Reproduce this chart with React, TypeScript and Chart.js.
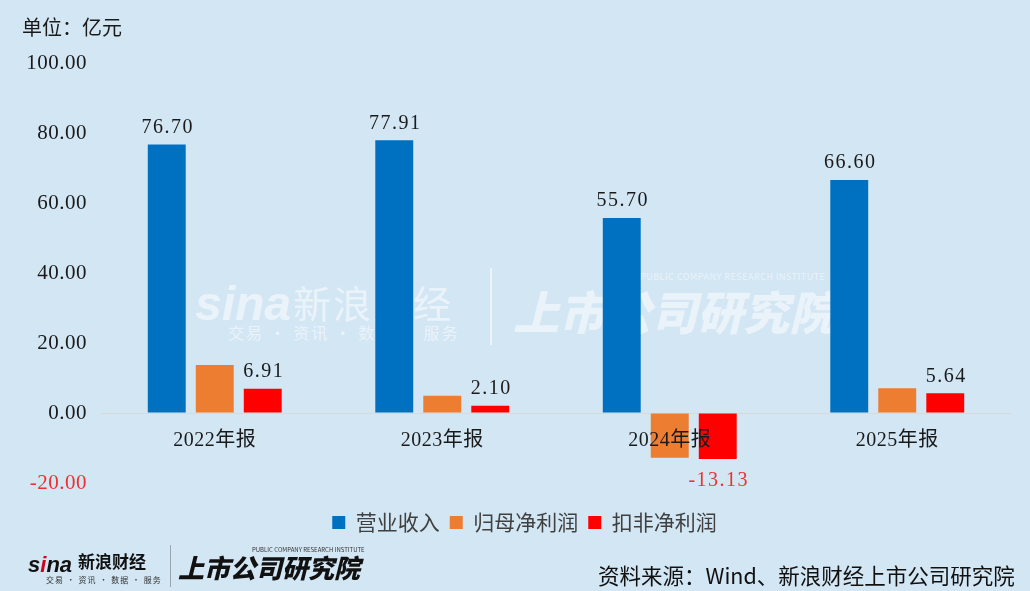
import React, { useEffect, useRef } from "react";
import { Chart, registerables } from "chart.js";

Chart.register(...registerables);

// 数据（单位：亿元）
const categories = ["2022年报", "2023年报", "2024年报", "2025年报"];
const revenue = [76.7, 77.91, 55.7, 66.6];
const netProfit = [13.7, 4.9, -12.8, 7.1];
const deductedProfit = [6.91, 2.1, -13.13, 5.64];
const seriesNames = ["营业收入", "归母净利润", "扣非净利润"];
const seriesColors = ["#0070C0", "#ED7D31", "#FF0000"];
const labeledSeries = [0, 2];
const yMin = -20;
const yMax = 100;
const yStep = 20;

const BG = "#d3e6f4";
const serifFont = "'Liberation Serif', 'Noto Sans CJK SC', serif";
const sansFont = "'Noto Sans CJK SC', 'Noto Sans', sans-serif";

const valueLabels = {
  id: "valueLabels",
  afterDatasetsDraw(chart: Chart) {
    const { ctx } = chart;
    ctx.save();
    ctx.font = `20px ${serifFont}`;
    (ctx as any).letterSpacing = "1.5px";
    ctx.textAlign = "center";
    labeledSeries.forEach((di) => {
      const meta = chart.getDatasetMeta(di);
      const values = chart.data.datasets[di].data as number[];
      meta.data.forEach((bar: any, i: number) => {
        const v = values[i];
        if (v >= 0) {
          ctx.fillStyle = "#1a1a1a";
          ctx.textBaseline = "bottom";
          ctx.fillText(v.toFixed(2), bar.x + 1, bar.y - 7);
        } else {
          ctx.fillStyle = "#f03030";
          ctx.textBaseline = "top";
          ctx.fillText(v.toFixed(2), bar.x + 1, bar.y + 12);
        }
      });
    });
    ctx.restore();
  },
};

// category names sit just under the zero line; y tick labels right-aligned left of the plot
const axisLabels = {
  id: "axisLabels",
  afterDatasetsDraw(chart: Chart) {
    const { ctx, chartArea } = chart;
    const xs = chart.scales.x;
    const ys = chart.scales.y;
    const y0 = ys.getPixelForValue(0);
    ctx.save();
    ctx.font = `20px ${serifFont}`;
    (ctx as any).letterSpacing = "0.5px";
    ctx.fillStyle = "#1a1a1a";
    ctx.textAlign = "center";
    ctx.textBaseline = "middle";
    (chart.data.labels as string[]).forEach((lab, i) => {
      ctx.fillText(lab, xs.getPixelForValue(i), y0 + 28);
    });
    ctx.font = `21px ${serifFont}`;
    ctx.textAlign = "right";
    ys.ticks.forEach((t: any) => {
      ctx.fillStyle = t.value < 0 ? "#f03030" : "#1a1a1a";
      ctx.fillText(Number(t.value).toFixed(2), chartArea.left - 14, ys.getPixelForValue(t.value));
    });
    ctx.restore();
  },
};

const BarChart: React.FC = () => {
  const canvasRef = useRef<HTMLCanvasElement>(null);
  const chartRef = useRef<Chart | null>(null);

  useEffect(() => {
    if (!canvasRef.current) return;
    if (chartRef.current) chartRef.current.destroy();

    const seriesData = [revenue, netProfit, deductedProfit];

    chartRef.current = new Chart(canvasRef.current, {
      type: "bar",
      data: {
        labels: categories,
        datasets: seriesData.map((d, i) => ({
          label: seriesNames[i],
          data: d,
          backgroundColor: seriesColors[i],
          borderWidth: 0,
          categoryPercentage: 0.633,
          barPercentage: 0.79,
        })),
      },
      options: {
        responsive: true,
        maintainAspectRatio: false,
        animation: false,
        layout: { padding: { top: 63, left: 38, right: 19, bottom: 48 } },
        plugins: {
          legend: {
            position: "bottom",
            labels: {
              boxWidth: 13,
              boxHeight: 13,
              padding: 10,
              color: "#404040",
              font: { family: sansFont, size: 21 },
            },
          },
          title: { display: false },
          tooltip: { enabled: false },
        },
        scales: {
          x: {
            ticks: { display: false },
            grid: { display: false },
            border: { display: false },
            afterFit: (s: any) => {
              s.height = 19;
            },
          },
          y: {
            min: yMin,
            max: yMax,
            ticks: { stepSize: yStep, display: false },
            grid: {
              drawTicks: false,
              lineWidth: 1,
              color: (c: any) => (c.tick && c.tick.value === 0 ? "#d9d9d9" : "rgba(0,0,0,0)"),
            },
            border: { display: false },
            afterFit: (s: any) => {
              s.width = 63;
            },
          },
        },
      },
      plugins: [valueLabels, axisLabels],
    });

    return () => {
      if (chartRef.current) {
        chartRef.current.destroy();
        chartRef.current = null;
      }
    };
  }, []);

  return <canvas ref={canvasRef} />;
};

const wm = "rgba(255,255,255,0.55)";

const App: React.FC = () => {
  return (
    <div
      style={{
        position: "absolute",
        left: 0,
        top: 0,
        width: 1030,
        height: 591,
        background: BG,
        overflow: "hidden",
        fontFamily: sansFont,
      }}
    >
      {/* watermark, behind the bars */}
      <div style={{ position: "absolute", left: 0, top: 0, width: 1030, height: 591, pointerEvents: "none" }}>
        <div style={{ position: "absolute", left: 195, top: 280, fontSize: 48, fontWeight: 900, fontStyle: "italic", color: wm, fontFamily: "'Liberation Sans', sans-serif", lineHeight: "48px" }}>
          sina
        </div>
        <div style={{ position: "absolute", left: 293, top: 282, fontSize: 38, color: wm, lineHeight: "40px", letterSpacing: 2 }}>
          新浪财经
        </div>
        <div style={{ position: "absolute", left: 228, top: 322, fontSize: 16, color: wm, lineHeight: "20px", letterSpacing: 2 }}>
          交易 · 资讯 · 数据 · 服务
        </div>
        <div style={{ position: "absolute", left: 490, top: 268, width: 2, height: 77, background: wm }} />
        <div style={{ position: "absolute", left: 640, top: 272, fontSize: 9, color: wm, lineHeight: "10px", letterSpacing: 0.5 }}>
          PUBLIC COMPANY RESEARCH INSTITUTE
        </div>
        <div style={{ position: "absolute", left: 513, top: 280, fontSize: 46, fontWeight: 900, fontStyle: "italic", color: wm, lineHeight: "60px" }}>
          上市公司研究院
        </div>
      </div>

      <div style={{ position: "absolute", left: 0, top: 0, width: 1030, height: 591 }}>
        <BarChart />
      </div>

      <div style={{ position: "absolute", left: 22, top: 14, fontSize: 20, color: "#1a1a1a", lineHeight: "26px" }}>
        单位：亿元
      </div>

      {/* footer */}
      <div style={{ position: "absolute", left: 28, top: 554, fontSize: 22, fontWeight: 900, fontStyle: "italic", color: "#111", fontFamily: "'Liberation Sans', sans-serif", lineHeight: "22px" }}>
        <span style={{ color: "#111" }}>s</span>
        <span style={{ color: "#d0021b" }}>i</span>
        <span>na</span>
      </div>
      <div style={{ position: "absolute", left: 78, top: 551, fontSize: 17, fontWeight: 700, color: "#111", lineHeight: "20px" }}>
        新浪财经
      </div>
      <div style={{ position: "absolute", left: 46, top: 575, fontSize: 8, color: "#333", lineHeight: "10px", letterSpacing: 1 }}>
        交易 · 资讯 · 数据 · 服务
      </div>
      <div style={{ position: "absolute", left: 170, top: 545, width: 1, height: 42, background: "#9aa5ae" }} />
      <div style={{ position: "absolute", left: 252, top: 546, fontSize: 6, color: "#333", lineHeight: "7px" }}>
        PUBLIC COMPANY RESEARCH INSTITUTE
      </div>
      <div style={{ position: "absolute", left: 178, top: 550, fontSize: 26, fontWeight: 900, fontStyle: "italic", color: "#111", lineHeight: "34px" }}>
        上市公司研究院
      </div>
      <div style={{ position: "absolute", left: 598, top: 561, fontSize: 21.5, color: "#111", lineHeight: "28px" }}>
        资料来源：Wind、新浪财经上市公司研究院
      </div>
    </div>
  );
};

export default App;
